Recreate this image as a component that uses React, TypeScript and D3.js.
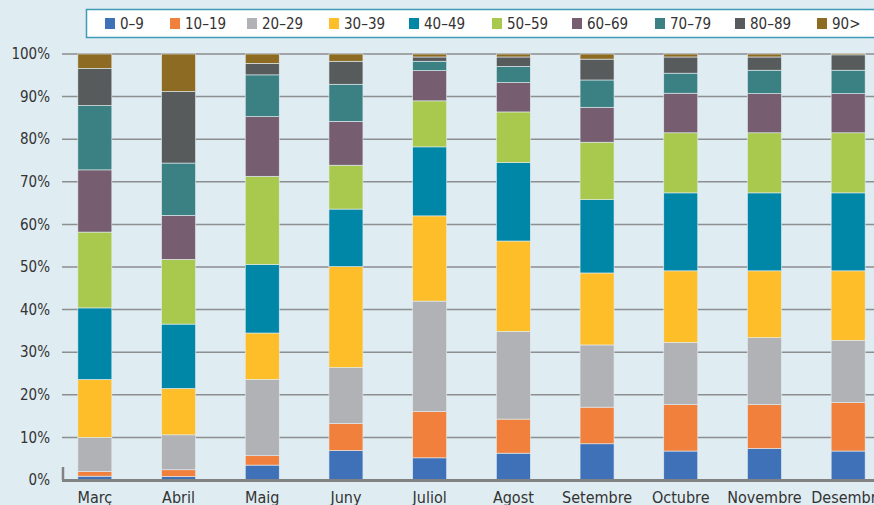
import * as React from 'react';
import * as d3 from 'd3';

const months = ['Març', 'Abril', 'Maig', 'Juny', 'Juliol', 'Agost', 'Setembre', 'Octubre', 'Novembre', 'Desembre'];
const ageGroups = ['0-9', '10-19', '20-29', '30-39', '40-49', '50-59', '60-69', '70-79', '80-89', '90>'];
const groupColors = ['#3f71b8', '#f0803c', '#b1b2b5', '#fdbe2a', '#0087a8', '#a8c94d', '#765d70', '#3b8083', '#575b5c', '#8e6b22'];

// share (%) of each age group per month
const g0_9 = [0.9, 0.8, 3.5, 6.9, 5.2, 6.3, 8.5, 6.8, 7.4, 6.8];
const g10_19 = [1.1, 1.6, 2.2, 6.4, 10.9, 8.0, 8.6, 10.9, 10.3, 11.4];
const g20_29 = [8.0, 8.2, 17.9, 13.1, 25.9, 20.6, 14.6, 14.6, 15.7, 14.6];
const g30_39 = [13.6, 10.9, 10.9, 23.7, 20.0, 21.2, 16.9, 16.8, 15.7, 16.3];
const g40_49 = [16.8, 15.1, 16.1, 13.5, 16.2, 18.4, 17.2, 18.3, 18.3, 18.3];
const g50_59 = [17.8, 15.2, 20.7, 10.3, 10.8, 11.9, 13.5, 14.1, 14.1, 14.1];
const g60_69 = [14.6, 10.3, 14.0, 10.3, 7.1, 6.9, 8.2, 9.3, 9.2, 9.2];
const g70_79 = [15.1, 12.3, 9.8, 8.7, 2.2, 3.8, 6.4, 4.7, 5.5, 5.5];
const g80_89 = [8.7, 16.8, 2.7, 5.4, 1.0, 2.2, 4.9, 3.8, 3.1, 3.6];
const g90 = [3.4, 8.8, 2.2, 1.7, 0.7, 0.7, 1.2, 0.7, 0.7, 0.3];

const yTicks = [0, 10, 20, 30, 40, 50, 60, 70, 80, 90, 100];

const font = "'Liberation Sans Narrow', 'DejaVu Sans Condensed', sans-serif";

export default function App() {
  const ref = React.useRef<SVGSVGElement>(null);

  React.useEffect(() => {
    const svg = d3.select(ref.current);
    svg.selectAll('*').remove();
    const width = 874;
    const height = 505;

    svg.append('rect').attr('width', width).attr('height', height).attr('fill', '#dfecf2');

    const series = [g0_9, g10_19, g20_29, g30_39, g40_49, g50_59, g60_69, g70_79, g80_89, g90];
    const rows = months.map((m, i) => {
      const row: any = { month: m };
      ageGroups.forEach((a, j) => { row[a] = series[j][i]; });
      return row;
    });
    const stacked = d3.stack().keys(ageGroups)(rows);

    const x = d3.scaleBand().domain(months).range([53, 890]).paddingInner(0.594).paddingOuter(0.297);
    const y = d3.scaleLinear().domain([0, 100]).range([480, 54]);
    const color = d3.scaleOrdinal<string, string>().domain(ageGroups).range(groupColors);

    // gridlines
    svg.append('g')
      .selectAll('line')
      .data(yTicks.filter(d => d > 0))
      .join('line')
      .attr('x1', 62).attr('x2', width)
      .attr('y1', d => y(d)).attr('y2', d => y(d))
      .attr('stroke', '#8c8e90').attr('stroke-width', 1.5);

    // y labels
    svg.append('g')
      .selectAll('text')
      .data(yTicks)
      .join('text')
      .attr('x', 50)
      .attr('y', d => y(d))
      .attr('dy', '0.35em')
      .attr('text-anchor', 'end')
      .attr('font-family', font)
      .attr('font-size', 15)
      .attr('fill', '#333')
      .text(d => `${d}%`);

    // bars
    svg.append('g')
      .selectAll('g')
      .data(stacked)
      .join('g')
      .attr('fill', d => color(d.key))
      .selectAll('rect')
      .data(d => d)
      .join('rect')
      .attr('x', d => x(d.data.month as any)!)
      .attr('width', x.bandwidth())
      .attr('y', d => y(d[1]))
      .attr('height', d => y(d[0]) - y(d[1]))
      .attr('stroke', '#e4eef2')
      .attr('stroke-width', 0.6);

    // baseline + small tick
    svg.append('line')
      .attr('x1', 62).attr('x2', width).attr('y1', 480.5).attr('y2', 480.5)
      .attr('stroke', '#808284').attr('stroke-width', 3);
    svg.append('line')
      .attr('x1', 63).attr('x2', 63).attr('y1', 467).attr('y2', 480)
      .attr('stroke', '#808284').attr('stroke-width', 2.5);

    // x labels
    svg.append('g')
      .selectAll('text')
      .data(months)
      .join('text')
      .attr('x', d => x(d)! + x.bandwidth() / 2)
      .attr('y', 503)
      .attr('text-anchor', 'middle')
      .attr('font-family', font)
      .attr('font-size', 16)
      .attr('fill', '#333')
      .text(d => d);

    // legend
    svg.append('rect')
      .attr('x', 86.5).attr('y', 9.5).attr('width', 800).attr('height', 28)
      .attr('fill', '#fff').attr('stroke', '#3f9ab6').attr('stroke-width', 1.5);
    const legendX = [105, 170, 247, 329, 409, 492, 572, 655, 735, 817];
    const legend = svg.append('g')
      .selectAll('g')
      .data(ageGroups)
      .join('g')
      .attr('transform', (d, i) => `translate(${legendX[i]},18)`);
    legend.append('rect').attr('width', 10).attr('height', 11).attr('fill', d => color(d));
    legend.append('text')
      .attr('x', 15).attr('y', 6).attr('dy', '0.35em')
      .attr('font-family', font)
      .attr('font-size', 15)
      .attr('fill', '#333')
      .text(d => d.replace('-', '–'));
  }, []);

  return <svg ref={ref} width={874} height={505} style={{ position: 'absolute', left: 0, top: 0 }} />;
}
